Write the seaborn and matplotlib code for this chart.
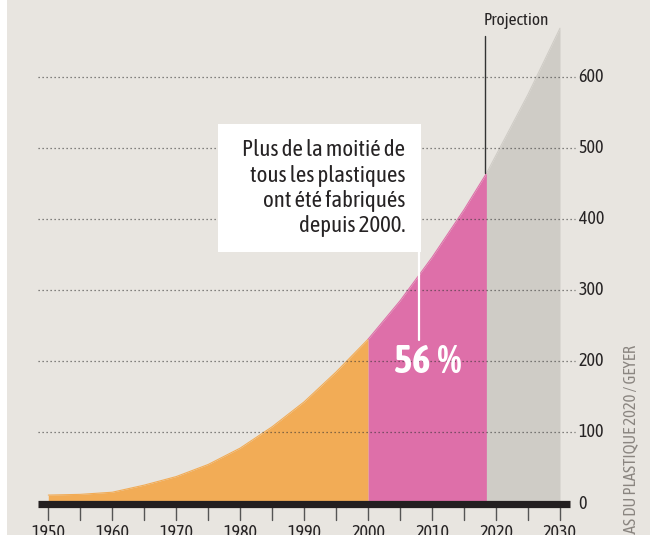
# Global plastics production (million tonnes per year), 1950-2030 with projection
import pandas as pd
import matplotlib
matplotlib.use("Agg")
import matplotlib.pyplot as plt
from matplotlib import font_manager
from matplotlib.patches import Rectangle
import seaborn as sns

# values
hist_years = [1950, 1955, 1960, 1965, 1970, 1975, 1980, 1985, 1990, 1995, 2000]
hist_values = [12, 13, 16, 26, 38, 55, 78, 108, 143, 185, 231]
recent_years = [2000, 2005, 2010, 2015, 2018.5]
recent_values = [231, 285, 346, 413, 464]
proj_years = [2018.5, 2025, 2030]
proj_values = [464, 575, 668]

y_ticks = [0, 100, 200, 300, 400, 500, 600]
x_labels = [1950, 1960, 1970, 1980, 1990, 2000, 2010, 2020, 2030]
x_minor = list(range(1950, 2031, 5))

note_text = "Plus de la moitié de\ntous les plastiques\nont été fabriqués\ndepuis 2000."
share_text = "56\u2009%"
source_text = "ATLAS DU PLASTIQUE 2020 / GEYER"

colors = {"hist": "#f2ac56", "recent": "#de6fa9", "proj": "#cfccc6"}
bg = "#e8e5e0"
ink = "#262324"

df = pd.concat([
    pd.DataFrame({"year": hist_years, "value": hist_values, "period": "hist"}),
    pd.DataFrame({"year": recent_years, "value": recent_values, "period": "recent"}),
    pd.DataFrame({"year": proj_years, "value": proj_values, "period": "proj"}),
], ignore_index=True)


def weight_num(w):
    if isinstance(w, int):
        return w
    return font_manager.weight_dict.get(str(w), 400)


# look for a narrow family that has both a regular and a bold face
faces = {}
for f in font_manager.fontManager.ttflist:
    is_narrow = ("Narrow" in f.name or "Condensed" in f.name
                 or "condensed" in str(f.stretch))
    if is_narrow and f.style == "normal":
        key = (f.name, str(f.stretch))
        faces.setdefault(key, set()).add(weight_num(f.weight))
narrow = None
for key, weights in sorted(faces.items()):
    if 400 in weights and any(w >= 600 for w in weights):
        narrow = key
        break
if narrow is None and faces:
    narrow = sorted(faces)[0]
if narrow is None:
    narrow = ("Liberation Sans", "normal")

sns.set_theme(style="white")
plt.rcParams["font.family"] = [narrow[0], "DejaVu Sans"]
plt.rcParams["font.stretch"] = narrow[1]

fig = plt.figure(figsize=(6.64, 5.35), dpi=100, facecolor="white")
fig.patches.append(Rectangle((7 / 664, 0), 643 / 664, 1, transform=fig.transFigure,
                             facecolor=bg, edgecolor="none", zorder=-10))
ax = fig.add_axes([0, 0, 1, 1])
ax.set_facecolor("none")
ax.set_xlim(1942.45, 2046.26)
ax.set_ylim(-44.1, 707.6)
ax.axis("off")

# areas
for period, sub in df.groupby("period", sort=False):
    ax.fill_between(sub["year"], 0, sub["value"], color=colors[period], lw=0, zorder=1)
sns.lineplot(data=df, x="year", y="value", hue="period", palette=colors,
             linewidth=0.8, legend=False, ax=ax, zorder=2, sort=False,
             estimator=None, units="period")

# dotted gridlines and right-hand labels
for t in y_ticks[1:]:
    ax.plot([1948.4, 2032.4], [t, t], color="#333333", lw=0.9, alpha=0.75,
            linestyle=(0, (1, 2.2)), zorder=3)
for t in y_ticks:
    ax.text(2032.9, t, str(t), ha="left", va="center", fontsize=13,
            fontweight="normal", color=ink)

# thick baseline with year ticks
ax.plot([1948.4, 2031.6], [0, 0], color="#231f20", lw=5.2, solid_capstyle="butt", zorder=5)
for yr in x_minor:
    ax.plot([yr, yr], [-5, -23], color="#555555", lw=1, zorder=4)
for yr in x_labels:
    ax.text(yr, -28.5, str(yr), ha="center", va="top", fontsize=13,
            fontweight="normal", color=ink)

# projection marker
ax.plot([2018.3, 2018.3], [464, 657], color="#333333", lw=1, zorder=4)
ax.text(2023.2, 679, "Projection", ha="center", va="center", fontsize=12.5,
        fontweight="normal", color=ink)

# annotation box
ax.add_patch(Rectangle((1976.5, 353.5), 31.8, 179.9, facecolor="white",
                       edgecolor="none", zorder=6))
ax.text(2005.8, 443, note_text, ha="right", va="center", fontsize=16.5,
        fontweight="normal", color=ink, linespacing=1.2, zorder=7)
ax.plot([2008.0, 2008.0], [353.5, 230], color="white", lw=1.6, zorder=6)
ax.text(2009.3, 199, share_text, ha="center", va="center", fontsize=28,
        fontweight="bold", color="white", zorder=7)

# source, running up the right margin
fig.text(631 / 664, 1 - 345 / 535, source_text, rotation=90, ha="center", va="top",
         fontsize=12, color="#8a8580")

fig.savefig("out.png", dpi=100, facecolor="white")
